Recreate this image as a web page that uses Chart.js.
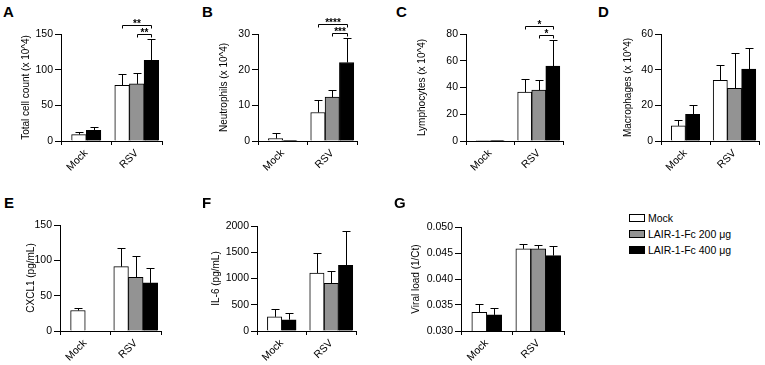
<!DOCTYPE html>
<html>
<head>
<meta charset="utf-8">
<script src="https://cdn.jsdelivr.net/npm/chart.js@4.4.1/dist/chart.umd.min.js"></script>
<style>
  body { margin: 0; background: #fff; font-family: Arial, "Liberation Sans", sans-serif; color: #000; }
  .panel { position: absolute; }
  .panel canvas { display: block; }
  .letter { position: absolute; font-weight: bold; font-size: 15px; line-height: 15px; }
  #legend { position: absolute; left: 629px; top: 210px; font-size: 10.5px; }
  .item { height: 16px; display: flex; align-items: center; }
  .box { width: 14px; height: 6px; border: 1px solid #000; margin-right: 3px; }
</style>
</head>
<body>
<div id="legend"></div>
<script>
// categories and series
const groups = ['Mock', 'RSV'];
const seriesNames = ['Mock', 'LAIR-1-Fc 200 \u03bcg', 'LAIR-1-Fc 400 \u03bcg'];
const seriesColors = ['#ffffff', '#939393', '#000000'];

// values are [Mock group, RSV group], each [Mock, 200 ug, 400 ug]; null = not measured
const totalMean = [[9, null, 15], [78, 80, 113]];
const totalErr  = [[4, null, 5], [16, 16, 30]];
const totalTicks = [0, 50, 100, 150];

const neutroMean = [[0.7, null, 0.2], [8, 12.3, 22]];
const neutroErr  = [[1.6, null, 0], [3.4, 1.9, 6.8]];
const neutroTicks = [0, 10, 20, 30];

const lymphoMean = [[0.3, null, 0.2], [36.5, 38, 56]];
const lymphoErr  = [[0, null, 0], [10, 7.5, 19.5]];
const lymphoTicks = [0, 20, 40, 60, 80];

const macroMean = [[8.5, null, 15], [34, 29.5, 40.3]];
const macroErr  = [[3.5, null, 5], [8.5, 20, 12]];
const macroTicks = [0, 20, 40, 60];

const cxcl1Mean = [[29, null, 0], [91, 76, 68]];
const cxcl1Err  = [[3.5, null, 0], [27, 30, 20.5]];
const cxcl1Ticks = [0, 50, 100, 150];

const il6Mean = [[270, null, 215], [1105, 910, 1250]];
const il6Err  = [[140, null, 135], [390, 240, 650]];
const il6Ticks = [0, 500, 1000, 1500, 2000];

const viralMean = [[0.0336, null, 0.0331], [0.0458, 0.0458, 0.0445]];
const viralErr  = [[0.0016, null, 0.0013], [0.0009, 0.0007, 0.0019]];
const viralTicks = [0.030, 0.035, 0.040, 0.045, 0.050];

// significance in the RSV group: [label, from series, to series]
const totalStars  = [['**', 1, 2], ['**', 0, 2]];
const neutroStars = [['***', 1, 2], ['****', 0, 2]];
const lymphoStars = [['*', 1, 2], ['*', 0, 2]];

const barStep = 0.29; // bar width as a share of one category

const panels = [
  { letter: 'A', title: 'Total cell count (x 10^4)', mean: totalMean, err: totalErr, ticks: totalTicks, stars: totalStars,
    box: { left: 61, right: 162, top: 34, bottom: 141, titleX: 26 }, lx: 3, ly: 4 },
  { letter: 'B', title: 'Neutrophils (x 10^4)', mean: neutroMean, err: neutroErr, ticks: neutroTicks, stars: neutroStars,
    box: { left: 258, right: 357, top: 34, bottom: 141, titleX: 224 }, lx: 202, ly: 4 },
  { letter: 'C', title: 'Lymphocytes (x 10^4)', mean: lymphoMean, err: lymphoErr, ticks: lymphoTicks, stars: lymphoStars,
    box: { left: 466, right: 563, top: 34, bottom: 141, titleX: 422 }, lx: 396, ly: 4 },
  { letter: 'D', title: 'Macrophages (x 10^4)', mean: macroMean, err: macroErr, ticks: macroTicks, stars: [],
    box: { left: 661, right: 759, top: 34, bottom: 141, titleX: 628 }, lx: 598, ly: 4 },
  { letter: 'E', title: 'CXCL1 (pg/mL)', mean: cxcl1Mean, err: cxcl1Err, ticks: cxcl1Ticks, stars: [],
    box: { left: 60, right: 161, top: 225, bottom: 331, titleX: 31 }, lx: 4, ly: 195 },
  { letter: 'F', title: 'IL-6 (pg/mL)', mean: il6Mean, err: il6Err, ticks: il6Ticks, stars: [],
    box: { left: 257, right: 356, top: 226, bottom: 331, titleX: 216 }, lx: 202, ly: 195 },
  { letter: 'G', title: 'Viral load (1/Ct)', mean: viralMean, err: viralErr, ticks: viralTicks, stars: [], decimals: 3,
    box: { left: 461, right: 564, top: 227, bottom: 331, titleX: 416 }, lx: 394, ly: 195 }
];

const fontFamily = 'Arial, "Liberation Sans", sans-serif';

// error bars: line up from the bar top with a small cap
const errorBars = {
  id: 'errorBars',
  afterDatasetsDraw(chart) {
    const ctx = chart.ctx, y = chart.scales.y;
    ctx.save();
    ctx.strokeStyle = '#000';
    ctx.lineWidth = 1;
    chart.data.datasets.forEach((ds, di) => {
      chart.getDatasetMeta(di).data.forEach((bar, i) => {
        const e = ds.errs[i];
        if (!e) return;
        const x = Math.round(bar.x) + 0.5;
        const top = Math.round(y.getPixelForValue(ds.data[i].y + e)) + 0.5;
        ctx.beginPath();
        ctx.moveTo(x, bar.y);
        ctx.lineTo(x, top);
        ctx.moveTo(x - 4, top);
        ctx.lineTo(x + 4, top);
        ctx.stroke();
      });
    });
    ctx.restore();
  }
};

// brackets with stars above the RSV group
const sigBrackets = {
  id: 'sigBrackets',
  afterDraw(chart, args, opts) {
    const list = opts.list || [];
    if (!list.length) return;
    const ctx = chart.ctx, y = chart.scales.y;
    const barOf = si => {
      const ds = chart.data.datasets[si];
      const i = ds.grp.indexOf(1);
      return { el: chart.getDatasetMeta(si).data[i], top: y.getPixelForValue(ds.data[i].y + ds.errs[i]) };
    };
    ctx.save();
    ctx.strokeStyle = '#000';
    ctx.fillStyle = '#000';
    ctx.lineWidth = 1;
    ctx.font = 'bold 10px ' + fontFamily;
    ctx.textAlign = 'center';
    ctx.textBaseline = 'alphabetic';
    list.forEach(([label, from, to], k) => {
      let capTop = Infinity;
      for (let s = from; s <= to; s++) capTop = Math.min(capTop, barOf(s).top);
      const level = Math.round(capTop - 5 - 9 * k) + 0.5;
      const x1 = Math.round(barOf(from).el.x) + 0.5, x2 = Math.round(barOf(to).el.x) + 0.5;
      ctx.beginPath();
      ctx.moveTo(x1, level + 3);
      ctx.lineTo(x1, level);
      ctx.lineTo(x2, level);
      ctx.lineTo(x2, level + 3);
      ctx.stroke();
      ctx.fillText(label, (x1 + x2) / 2, level + 1.5);
    });
    ctx.restore();
  }
};

function buildDatasets(mean, err) {
  return seriesNames.map((name, si) => {
    const data = [], errs = [], grp = [];
    groups.forEach((g, gi) => {
      if (mean[gi][si] === null) return;
      const present = [0, 1, 2].filter(k => mean[gi][k] !== null);
      const k = present.indexOf(si);
      data.push({ x: gi + (k - (present.length - 1) / 2) * barStep, y: mean[gi][si] });
      errs.push(err[gi][si]);
      grp.push(gi);
    });
    return {
      label: name, data, errs, grp,
      backgroundColor: seriesColors[si],
      borderColor: '#000',
      borderWidth: 1,
      grouped: false,
      categoryPercentage: 1,
      barPercentage: 1
    };
  });
}

const padTop = 30, padRight = 6, xH = 42;

panels.forEach(p => {
  const b = p.box;
  const canvasLeft = Math.round(b.titleX - 8);
  const yW = b.left - canvasLeft;
  const wrap = document.createElement('div');
  wrap.className = 'panel';
  wrap.style.left = canvasLeft + 'px';
  wrap.style.top = (b.top - padTop) + 'px';
  const canvas = document.createElement('canvas');
  canvas.width = yW + (b.right - b.left) + padRight;
  canvas.height = padTop + (b.bottom - b.top) + xH;
  wrap.appendChild(canvas);
  document.body.appendChild(wrap);

  const letter = document.createElement('div');
  letter.className = 'letter';
  letter.textContent = p.letter;
  letter.style.left = p.lx + 'px';
  letter.style.top = p.ly + 'px';
  document.body.appendChild(letter);

  new Chart(canvas, {
    type: 'bar',
    data: { datasets: buildDatasets(p.mean, p.err) },
    options: {
      responsive: false,
      animation: false,
      events: [],
      layout: { padding: { top: padTop, right: padRight, left: 0, bottom: 0 } },
      plugins: {
        legend: { display: false },
        tooltip: { enabled: false },
        sigBrackets: { list: p.stars }
      },
      scales: {
        x: {
          type: 'linear',
          min: -0.5,
          max: 1.5,
          offset: false,
          afterBuildTicks: s => { s.ticks = groups.map((g, i) => ({ value: i })); },
          afterFit: s => { s.height = xH; },
          grid: { drawOnChartArea: false, tickLength: 4, color: '#000' },
          border: { color: '#000', width: 1 },
          ticks: {
            autoSkip: false,
            minRotation: 45,
            maxRotation: 45,
            padding: 2,
            color: '#000',
            font: { family: fontFamily, size: 10.5 },
            callback: v => groups[v]
          }
        },
        y: {
          min: p.ticks[0],
          max: p.ticks[p.ticks.length - 1],
          afterBuildTicks: s => { s.ticks = p.ticks.map(v => ({ value: v })); },
          afterFit: s => { s.width = yW; },
          grid: { drawOnChartArea: false, tickLength: 6, color: '#000' },
          border: { color: '#000', width: 1 },
          ticks: {
            padding: 2,
            color: '#000',
            font: { family: fontFamily, size: 10.5 },
            callback: v => p.decimals ? v.toFixed(p.decimals) : v
          },
          title: {
            display: true,
            text: p.title,
            color: '#000',
            font: { family: fontFamily, size: 10 },
            padding: { top: 2, bottom: 2 }
          }
        }
      }
    },
    plugins: [errorBars, sigBrackets]
  });
});

// legend
const legend = document.getElementById('legend');
seriesNames.forEach((name, i) => {
  const item = document.createElement('div');
  item.className = 'item';
  item.innerHTML = '<div class="box" style="background:' + seriesColors[i] + '"></div><span>' + name + '</span>';
  legend.appendChild(item);
});
</script>
</body>
</html>
